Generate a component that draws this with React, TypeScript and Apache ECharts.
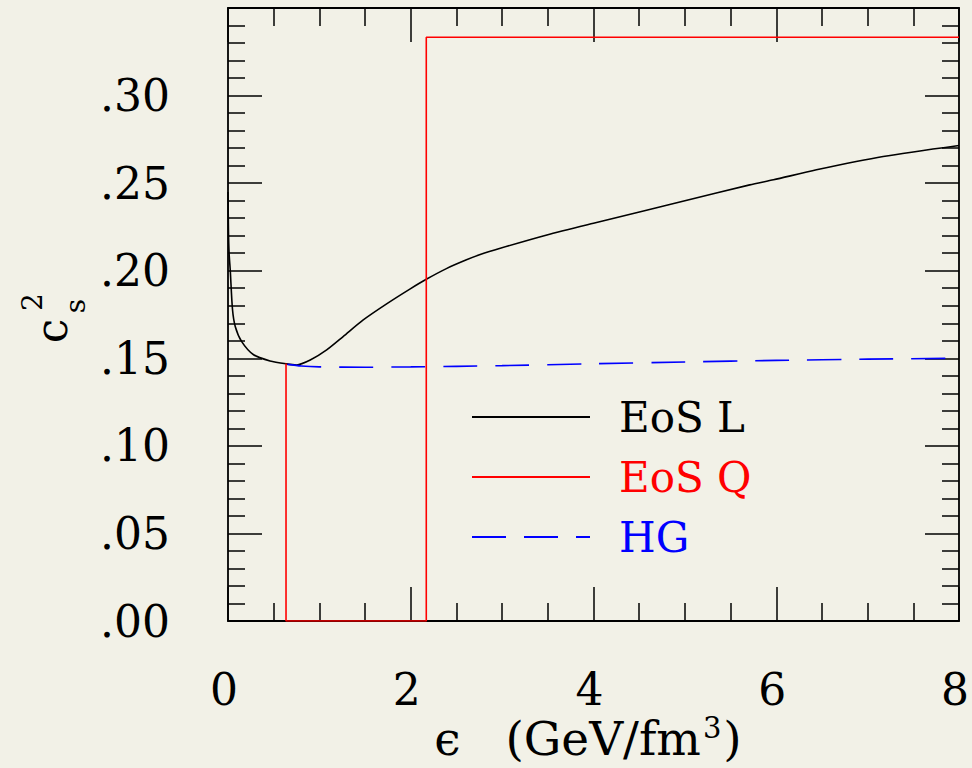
import React, { useEffect, useRef } from "react";
import * as echarts from "echarts";

// EoS L (black, solid)
const epsL = [0, 0.005, 0.012, 0.025, 0.049, 0.08, 0.15, 0.28, 0.46, 0.64, 0.75, 0.9, 1.08, 1.26, 1.48, 1.74, 1.99, 2.17, 2.39, 2.61, 2.76, 2.98, 3.49, 4.0, 4.58, 5.0, 5.71, 5.97, 6.44, 7.17, 8.0];
const csL = [0.245, 0.223, 0.21, 0.2, 0.178, 0.168, 0.1595, 0.152, 0.1485, 0.1468, 0.1462, 0.149, 0.1548, 0.1624, 0.1719, 0.1812, 0.1895, 0.1951, 0.2012, 0.2062, 0.2092, 0.2128, 0.2204, 0.2271, 0.2345, 0.2399, 0.249, 0.2519, 0.2576, 0.2652, 0.2715];

// EoS Q (red, step)
const epsQ = [0.635, 0.635, 2.17, 2.17, 8.0];
const csQ = [0.147, 0, 0, 1 / 3, 1 / 3];

// HG (blue, dashed)
const epsHG = [0.65, 0.8, 1.0, 1.5, 2.0, 2.5, 3.0, 4.0, 5.0, 6.0, 7.0, 8.0];
const csHG = [0.1465, 0.1456, 0.1451, 0.1449, 0.1451, 0.1454, 0.1458, 0.1469, 0.1479, 0.1488, 0.1495, 0.150];

const xTicks = [0, 2, 4, 6, 8];
const yTickLabels = [".00", ".05", ".10", ".15", ".20", ".25", ".30"];

const FONT = "DejaVu Serif";
const BG = "#f2f1e7";

const zip = (xs: number[], ys: number[]) => xs.map((x, i) => [x, ys[i]]);

export default function App() {
  const ref = useRef<HTMLDivElement>(null);
  useEffect(() => {
    if (!ref.current) return;
    const chart = echarts.init(ref.current, undefined, { renderer: "svg" });
    const axisLine = { show: true, onZero: false, lineStyle: { color: "#000", width: 1.8 } };
    const majorTick = (len: number) => ({ show: true, inside: true, length: len, lineStyle: { color: "#000", width: 1.5 } });
    const minorTick = (n: number, len: number) => ({ show: true, splitNumber: n, length: len, lineStyle: { color: "#000", width: 1.5 } });
    chart.setOption({
      animation: false,
      backgroundColor: BG,
      grid: { left: 228, top: 8, right: 13, bottom: 147, containLabel: false },
      xAxis: [
        {
          type: "value", min: 0, max: 8, interval: 2, position: "bottom",
          axisLine, axisTick: majorTick(34), minorTick: minorTick(4, 18),
          splitLine: { show: false },
          axisLabel: {
            show: true, margin: 46, fontFamily: FONT, fontSize: 44, color: "#000",
            padding: [0, 8, 0, 0],
            formatter: (v: number) => (xTicks.includes(v) ? String(v) : ""),
          },
        },
        {
          type: "value", min: 0, max: 8, interval: 2, position: "top",
          axisLine, axisTick: majorTick(34), minorTick: minorTick(4, 18),
          splitLine: { show: false }, axisLabel: { show: false },
        },
      ],
      yAxis: [
        {
          type: "value", min: 0, max: 0.35, interval: 0.05, position: "left",
          axisLine, axisTick: majorTick(34), minorTick: minorTick(5, 17),
          splitLine: { show: false },
          axisLabel: {
            show: true, margin: 58, fontFamily: FONT, fontSize: 44, color: "#000",
            formatter: (v: number) => {
              const i = Math.round(v / 0.05);
              return i < yTickLabels.length ? yTickLabels[i] : "";
            },
          },
        },
        {
          type: "value", min: 0, max: 0.35, interval: 0.05, position: "right",
          axisLine, axisTick: majorTick(34), minorTick: minorTick(5, 17),
          splitLine: { show: false }, axisLabel: { show: false },
        },
      ],
      legend: {
        show: true,
        orient: "vertical",
        left: 471,
        top: 395,
        padding: 0,
        itemWidth: 118,
        itemHeight: 14,
        itemGap: 16,
        itemStyle: { opacity: 0 },
        textStyle: { fontFamily: FONT, fontSize: 42, lineHeight: 44, padding: [0, 0, 0, 24] },
        data: [
          { name: "EoS L", textStyle: { color: "#000" } },
          { name: "EoS Q", textStyle: { color: "#ff0000" } },
          { name: "HG", textStyle: { color: "#0000ff" } },
        ],
      },
      series: [
        {
          name: "EoS L", type: "line", data: zip(epsL, csL), symbol: "none", showSymbol: false,
          smooth: 0.25, z: 2,
          lineStyle: { color: "#000", width: 1.6 }, itemStyle: { color: "#000" },
        },
        {
          name: "EoS Q", type: "line", data: zip(epsQ, csQ), symbol: "none", showSymbol: false, z: 4,
          lineStyle: { color: "#ff0000", width: 1.6 }, itemStyle: { color: "#ff0000" },
        },
        {
          name: "HG", type: "line", data: zip(epsHG, csHG), symbol: "none", showSymbol: false,
          smooth: 0.25, z: 3,
          lineStyle: { color: "#0000ff", width: 1.6, type: [34, 18] }, itemStyle: { color: "#0000ff" },
        },
      ],
      graphic: [
        {
          type: "text", x: 588, y: 738,
          style: {
            text: "ϵ   (GeV/fm{sup|3})", fontFamily: FONT, fontSize: 47, fill: "#000",
            align: "center", verticalAlign: "middle",
            rich: { sup: { fontFamily: FONT, fontSize: 29, fill: "#000", padding: [0, 2, 20, 2] } },
          },
        },
        { type: "text", x: 51, y: 331, rotation: Math.PI / 2, style: { text: "c", fontFamily: FONT, fontSize: 44, fill: "#000", align: "center", verticalAlign: "middle" } },
        { type: "text", x: 32, y: 302, rotation: Math.PI / 2, style: { text: "2", fontFamily: FONT, fontSize: 28, fill: "#000", align: "center", verticalAlign: "middle" } },
        { type: "text", x: 75, y: 306, rotation: Math.PI / 2, style: { text: "s", fontFamily: FONT, fontSize: 28, fill: "#000", align: "center", verticalAlign: "middle" } },
      ],
    });
    return () => chart.dispose();
  }, []);
  return (
    <div
      ref={ref}
      style={{ position: "fixed", left: 0, top: 0, width: 972, height: 768, background: BG }}
    />
  );
}
